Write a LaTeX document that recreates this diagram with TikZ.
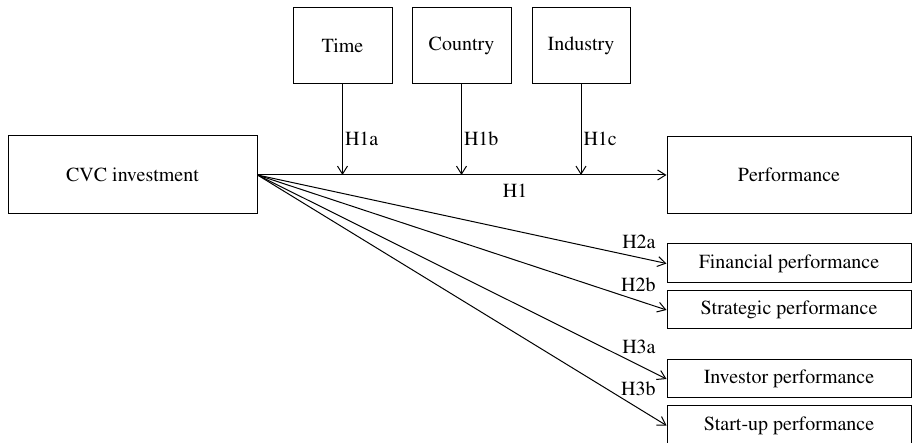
\documentclass[tikz,border=0pt]{standalone}
\usepackage[T1]{fontenc}
\usepackage{times}
\usetikzlibrary{arrows.meta}

\begin{document}
\begin{tikzpicture}[x=0.5pt,y=-0.5pt,
    box/.style={draw, line width=0.5pt, inner sep=0pt, font=\fontsize{10}{12}\selectfont},
    hyp/.style={inner sep=1pt, font=\fontsize{10}{12}\selectfont},
    arr/.style={line width=0.5pt, -{Straight Barb[length=4pt,width=5pt]}}]
    \useasboundingbox (0,0) rectangle (912,443);

    \node[box, minimum width=124.5pt, minimum height=39pt] (cvc) at (132.5,175) {CVC investment};
    \node[box, minimum width=49.5pt, minimum height=38pt] (time) at (342.5,46) {Time};
    \node[box, minimum width=49.5pt, minimum height=38pt] (country) at (461.5,46) {Country};
    \node[box, minimum width=49pt, minimum height=38pt] (industry) at (581,46) {Industry};

    \node[box, minimum width=122pt, minimum height=38.5pt] (perf) at (789,175) {Performance};
    \node[box, minimum width=122pt, minimum height=19.5pt] (fin) at (789,263.5) {Financial performance};
    \node[box, minimum width=122pt, minimum height=19pt] (strat) at (789,310) {Strategic performance};
    \node[box, minimum width=122pt, minimum height=19pt] (inv) at (789,379) {Investor performance};
    \node[box, minimum width=122pt, minimum height=19.5pt] (startup) at (789,425.5) {Start-up performance};

    \draw[arr] (cvc.east) -- (perf.west) node[hyp, pos=0.63, below=3pt] {H1};
    \draw[arr] (time.south) -- (time.south |- cvc.east) node[hyp, pos=0.6, right] {H1a};
    \draw[arr] (country.south) -- (country.south |- cvc.east) node[hyp, pos=0.6, right] {H1b};
    \draw[arr] (industry.south) -- (industry.south |- cvc.east) node[hyp, pos=0.6, right] {H1c};

    \draw[arr] (cvc.east) -- (fin.west);
    \draw[arr] (cvc.east) -- (strat.west);
    \draw[arr] (cvc.east) -- (inv.west);
    \draw[arr] (cvc.east) -- (startup.west);

    \node[hyp, anchor=east] (h2a) at (658,242) {H2a};
    \node[hyp, anchor=east] (h2b) at (658,284.5) {H2b};
    \node[hyp, anchor=east] (h3a) at (658,346.7) {H3a};
    \node[hyp, anchor=east] (h3b) at (658,388.5) {H3b};
\end{tikzpicture}
\end{document}
